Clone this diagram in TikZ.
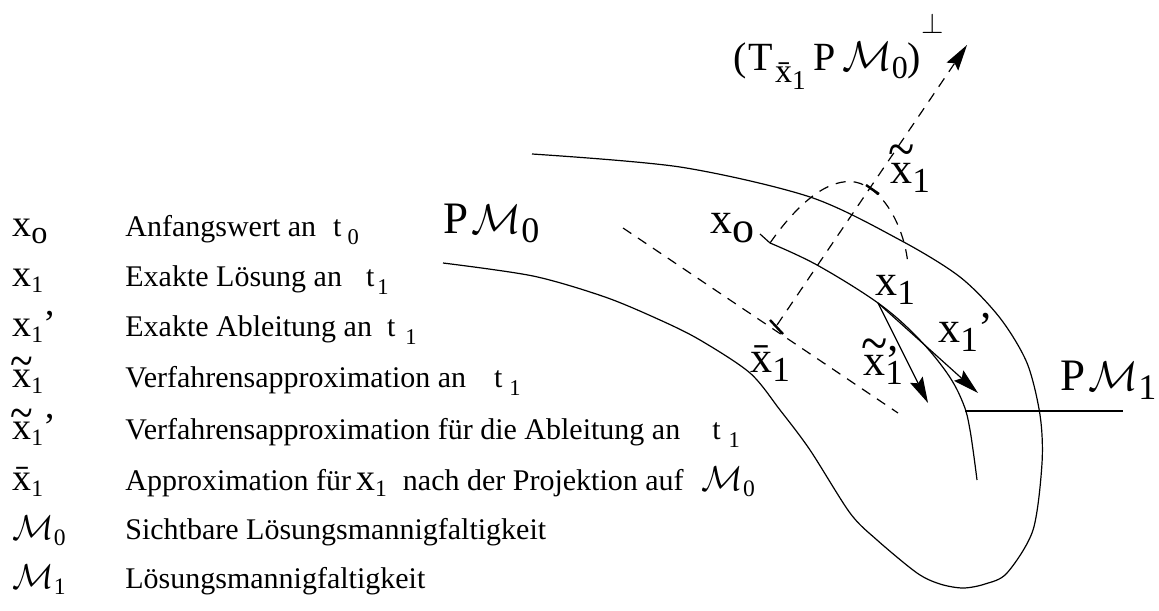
\documentclass[tikz,border=0pt]{standalone}
\usepackage{fontspec}
\setmainfont{Liberation Serif}
\usetikzlibrary{arrows.meta}
\newcommand{\lsb}[1]{\raisebox{-0.16em}{\scalebox{0.62}{#1}}}
\newcommand{\dsb}[1]{\raisebox{-0.22em}{\scalebox{0.8}{#1}}}
\newcommand{\tsb}[1]{\raisebox{-0.27em}{\scalebox{0.75}{#1}}}
\newcommand{\cM}{\ensuremath{\mathcal{M}}}
\newcommand{\symfont}{\fontsize{19}{22}\selectfont}
\newcommand{\tx}[1][0.26em]{\leavevmode\hbox{\ooalign{x\cr\hidewidth\raisebox{#1}{\scalebox{1.1}[1.3]{\char"7E}}\hidewidth\cr}}}
\tikzset{
  sym/.style={anchor=base west, inner sep=0pt, font=\symfont},
  desc/.style={anchor=base west, inner sep=0pt, font=\fontsize{15}{18}\selectfont},
  lab/.style={anchor=base west, inner sep=0pt, font=\fontsize{22}{26}\selectfont},
  big/.style={anchor=base west, inner sep=0pt, font=\fontsize{22.5}{27}\selectfont},
  perplab/.style={anchor=base west, inner sep=0pt, font=\fontsize{20}{24}\selectfont},
  curve/.style={line width=0.6pt},
  dsh/.style={line width=0.6pt, dash pattern=on 5pt off 4pt},
  arr/.style={line width=0.6pt, -{Stealth[length=13pt,width=7pt,inset=2pt]}},
  tickmark/.style={line width=1.2pt},
}
\begin{document}
\begin{tikzpicture}[x=0.5pt,y=-0.5pt]
\useasboundingbox (0,0) rectangle (1159,610);

% ---------- legend ----------
\node[sym] (s1) at (12,236) {x\raisebox{-0.2em}{\scalebox{0.85}{o}}};
\node[desc] (d1) at (125,236) {Anfangswert an\hspace{8.5pt}t\hspace{3pt}\tsb{0}};
\node[sym] (s2) at (12,286) {x\lsb{1}};
\node[desc] (d2) at (125,286) {Exakte Lösung an\hspace{12pt}t\hspace{1.5pt}\tsb{1}};
\node[sym] (s3) at (12,336) {x\lsb{1}’};
\node[desc] (d3) at (125,336) {Exakte Ableitung an\hspace{7.5pt}t\hspace{5pt}\tsb{1}};
\node[sym] (s4) at (12,387) {\tx\lsb{1}};
\node[desc] (d4) at (125,387) {Verfahrensapproximation an\hspace{14pt}t\hspace{3.5pt}\tsb{1}};
\node[sym] (s5) at (12,439) {\tx\lsb{1}’};
\node[desc] (d5) at (125,439) {Verfahrensapproximation für die Ableitung an\hspace{16pt}t\hspace{4pt}\tsb{1}};
\node[sym] (s6) at (12,490) {\=x\lsb{1}};
\node[desc] (d6) at (125,490) {Approximation für\hspace{2.5pt}{\symfont x\lsb{1}}\hspace{8pt}nach der Projektion auf\hspace{9pt}{\symfont\cM\lsb{0}}};
\node[sym] (s7) at (12,539) {\cM\lsb{0}};
\node[desc] (d7) at (125,539) {Sichtbare Lösungsmannigfaltigkeit};
\node[sym] (s8) at (12,588) {\cM\lsb{1}};
\node[desc] (d8) at (125,588) {Lösungsmannigfaltigkeit};

% ---------- manifold boundary ----------
\draw[curve] plot[smooth, tension=0.5] coordinates {(443,263) (533,276) (605,297) (660,320) (700,340) (750,373) (780,410) (810,450) (850,513) (877,540) (917,573) (940,584) (963,588) (985,584) (1007,573) (1033,530) (1042,463) (1040,415) (1027,363) (1000,318) (960,277) (900,240) (810,197) (680,167) (532,154)};

% ---------- trajectory ----------
\coordinate (X0) at (770,243);
\coordinate (X0t) at (760,234);
\coordinate (X1) at (878,303);
\draw[curve] (X0t) -- (X0);
\draw[curve] plot[smooth, tension=0.6] coordinates {(770,243) (817,265) (878,303) (917,337) (947,373) (963,403) (970,430) (977,480)};

% ---------- derivative arrows ----------
\coordinate (T1) at (978,393);
\coordinate (T2) at (928,403);
\draw[arr] (X1) -- (T1);
\draw[arr] (X1) -- (T2);

% ---------- projection lines ----------
\coordinate (TA) at (623,228);
\coordinate (TB) at (898,413);
\coordinate (XB) at (777,325);
\coordinate (PT) at (967,45);
\draw[dsh] (TA) -- (TB);
\draw[dsh, -{Stealth[length=13pt,width=7pt,inset=2pt]}] (XB) -- (PT);
\draw[tickmark] (770,320) -- (783,334);
\draw[tickmark] (866,185) -- (879,194);
\draw[dsh] (X0) .. controls (800,200) and (830,178) .. (855,182) .. controls (885,188) and (905,230) .. (908,265);

% ---------- PM1 leader ----------
\coordinate (L1) at (965,411);
\coordinate (L2) at (1123,411);
\draw[curve] (L1) -- (L2);

% ---------- labels ----------
\node[big] (PM0) at (443,233) {P\hspace{1.5pt}\cM\dsb{0}};
\node[big] (PM1) at (1060,390) {P\hspace{1.5pt}\cM\dsb{1}};
\node[lab] (lx0) at (710,233) {x\raisebox{-0.22em}{o}};
\node[lab] (lxt) at (890,183) {\tx[0.33em]\dsb{1}};
\node[lab] (lx1) at (875,295) {x\dsb{1}};
\node[lab] (lx1p) at (938,342) {x\dsb{1}’};
\node[lab] (lxtp) at (863,375) {\tx[0.28em]\rlap{’}\dsb{1}};
\node[lab] (lxb) at (750,372) {\=x\dsb{1}};
\node[perplab] (lperp) at (733,70) {(\hspace{1pt}T\hspace{1pt}\raisebox{-0.32em}{\scalebox{0.85}{\=x\raisebox{-0.2em}{\scalebox{0.8}{1}}}}\hspace{4pt}P\hspace{3pt}\cM\dsb{0})\raisebox{0.9em}{$\scriptstyle\perp$}};
\end{tikzpicture}
\end{document}
